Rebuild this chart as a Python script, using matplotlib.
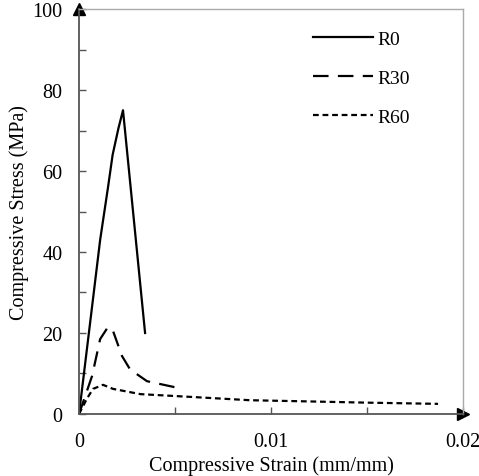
import matplotlib.pyplot as plt
from matplotlib.ticker import MultipleLocator

plt.rcParams['font.family'] = ['Liberation Serif', 'DejaVu Serif']

# R0
strain_r0 = [0, 0.00073, 0.0011, 0.00151, 0.00175, 0.00205, 0.00229, 0.00344]
stress_r0 = [0, 28.5, 43, 56, 64, 70.5, 75, 20]
# R30
strain_r30 = [0, 0.00068, 0.0011, 0.00151, 0.00177, 0.00224, 0.00266, 0.00354, 0.0052]
stress_r30 = [0, 9.4, 18.5, 21.5, 20.5, 14.3, 11, 8.1, 6.4]
# R60
strain_r60 = [0, 0.0004, 0.00073, 0.00125, 0.00177, 0.0032, 0.0059, 0.0089, 0.0120, 0.0150, 0.0187]
stress_r60 = [0, 3.7, 6.2, 7.2, 6.2, 4.9, 4.2, 3.4, 3.1, 2.8, 2.5]

fig = plt.figure(figsize=(4.79, 4.77), dpi=100)
ax = fig.add_axes([0.165, 0.13, 0.8016, 0.849])

ax.plot(strain_r0, stress_r0, color='black', lw=1.6, ls='-', label='R0')
ax.plot(strain_r30, stress_r30, color='black', lw=1.6, ls=(0, (7, 4.2)), label='R30')
ax.plot(strain_r60, stress_r60, color='black', lw=1.6, ls=(0, (2.6, 1.7)), label='R60')

ax.set_xlim(0, 0.02)
ax.set_ylim(0, 100)
ax.set_xticks([0, 0.01, 0.02])
ax.set_xticklabels(['0', '0.01', '0.02'])
ax.xaxis.set_minor_locator(MultipleLocator(0.005))
ax.yaxis.set_major_locator(MultipleLocator(20))
ax.yaxis.set_minor_locator(MultipleLocator(10))
ax.tick_params(which='both', direction='in', length=5, width=1, color='#555555',
               labelsize=14.5)
ax.tick_params(axis='x', which='both', pad=13)
ax.tick_params(axis='y', which='both', pad=12)

for s in ['top', 'right']:
    ax.spines[s].set_color('#aaaaaa')
    ax.spines[s].set_linewidth(1)
for s in ['left', 'bottom']:
    ax.spines[s].set_color('#555555')
    ax.spines[s].set_linewidth(1.3)

# axis arrows
ax.plot(0, 1, marker='^', color='black', markersize=9, transform=ax.transAxes, clip_on=False)
ax.plot(1, 0, marker='>', color='black', markersize=9, transform=ax.transAxes, clip_on=False)

ax.set_xlabel('Compressive Strain (mm/mm)', fontsize=14.5, labelpad=3)
ax.set_ylabel('Compressive Stress (MPa)', fontsize=14.5, labelpad=2)

ax.legend(loc='upper right', bbox_to_anchor=(0.908, 0.99), frameon=False, fontsize=14,
          handlelength=3.1, labelspacing=1.1, handletextpad=0.25)

fig.savefig('out.png', dpi=100)
